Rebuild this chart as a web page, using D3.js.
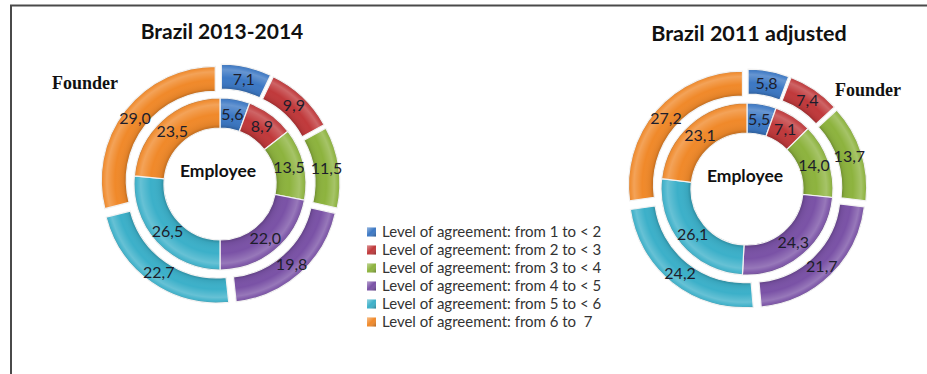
<!DOCTYPE html>
<html>
<head>
<meta charset="utf-8">
<script src="https://cdn.jsdelivr.net/npm/d3@7"></script>
<style>
  html, body { margin: 0; padding: 0; background: #fff; }
  svg { display: block; }
  text { white-space: pre; }
</style>
</head>
<body>
<svg id="chart" width="927" height="374"></svg>
<script>
// Levels of agreement (legend entries, in drawing order)
const categories = [
  "Level of agreement: from 1 to < 2",
  "Level of agreement: from 2 to < 3",
  "Level of agreement: from 3 to < 4",
  "Level of agreement: from 4 to < 5",
  "Level of agreement: from 5 to < 6",
  "Level of agreement: from 6 to  7"
];
// Shares (%) per level, outer ring = founders, inner ring = employees
const founder2013  = [7.1, 9.9, 11.5, 19.8, 22.7, 29.0];
const employee2013 = [5.6, 8.9, 13.5, 22.0, 26.5, 23.5];
const founder2011  = [5.8, 7.4, 13.7, 21.7, 24.2, 27.2];
const employee2011 = [5.5, 7.1, 14.0, 24.3, 26.1, 23.1];
const chartTitles = ["Brazil 2013-2014", "Brazil 2011 adjusted"];
const outerLabel = "Founder";
const innerLabel = "Employee";

const colors = ["#3c78c4", "#c0393b", "#8db33e", "#7a52a6", "#3cb0c9", "#f0892a"];

const svg = d3.select("#chart");
const sans = "Lato, 'Open Sans', sans-serif";
const serif = "'Liberation Serif', 'DejaVu Serif', serif";

// comma decimal separator
const fmt = d3.formatLocale({decimal: ",", thousands: ".", grouping: [3], currency: ["", ""]}).format(".1f");

// ring geometry
const innerRing = {r0: 56, r1: 86};
const outerRing = {r0: 89, r1: 114};
const explode = 6;

const defs = svg.append("defs");
function ringShade(id, ring) {
  const g = defs.append("radialGradient")
    .attr("id", id).attr("gradientUnits", "userSpaceOnUse")
    .attr("cx", 0).attr("cy", 0).attr("r", ring.r1);
  const a = ring.r0 / ring.r1, w = 1 - a;
  [[a, "#000", 0.22], [a + w * 0.12, "#000", 0.06], [a + w * 0.45, "#fff", 0.0],
   [a + w * 0.78, "#fff", 0.22], [a + w * 0.92, "#fff", 0.05], [1, "#000", 0.22]]
    .forEach(([o, c, op]) => g.append("stop").attr("offset", o)
      .attr("stop-color", c).attr("stop-opacity", op));
}
ringShade("shadeInner", innerRing);
ringShade("shadeOuter", outerRing);

// legend swatch shading
const sw = defs.append("linearGradient").attr("id", "swatchShade")
  .attr("x1", 0).attr("y1", 0).attr("x2", 1).attr("y2", 1);
[[0, "#fff", 0.45], [0.5, "#fff", 0], [1, "#000", 0.3]].forEach(([o, c, op]) =>
  sw.append("stop").attr("offset", o).attr("stop-color", c).attr("stop-opacity", op));

// frame lines of the figure box
svg.append("line").attr("x1", 10).attr("y1", 5.5).attr("x2", 927).attr("y2", 5.5)
  .attr("stroke", "#4a4a4a").attr("stroke-width", 2);
svg.append("line").attr("x1", 11).attr("y1", 5).attr("x2", 11).attr("y2", 374)
  .attr("stroke", "#4a4a4a").attr("stroke-width", 2);

const pie = d3.pie().sort(null).value(d => d);

function drawDonut(cx, cy, title, outerVals, innerVals, titleY, titleSize) {
  const g = svg.append("g").attr("transform", `translate(${cx},${cy})`);

  // inner ring (employees)
  const arcIn = d3.arc().innerRadius(innerRing.r0).outerRadius(innerRing.r1);
  const inner = pie(innerVals);
  g.append("g").selectAll("g").data(inner).join("g").each(function(d, i) {
    const s = d3.select(this);
    s.append("path").attr("d", arcIn(d)).attr("fill", colors[i]);
    s.append("path").attr("d", arcIn(d)).attr("fill", "url(#shadeInner)")
      .attr("stroke", "#f2f2f2").attr("stroke-width", 1.2);
  });

  // outer ring (founders), slices pushed outward along their bisector
  const arcOut = d3.arc().innerRadius(outerRing.r0).outerRadius(outerRing.r1);
  const outer = pie(outerVals);
  const shift = d => {
    const a = (d.startAngle + d.endAngle) / 2;
    return [Math.sin(a) * explode, -Math.cos(a) * explode];
  };
  g.append("g").selectAll("g").data(outer).join("g")
    .attr("transform", d => `translate(${shift(d)})`)
    .each(function(d, i) {
      const s = d3.select(this);
      s.append("path").attr("d", arcOut(d)).attr("fill", colors[i]);
      s.append("path").attr("d", arcOut(d)).attr("fill", "url(#shadeOuter)")
        .attr("stroke", "#f2f2f2").attr("stroke-width", 1.2);
    });

  // value labels at slice centroids
  const lab = (sel, data, arc, off) => sel.selectAll("text").data(data).join("text")
    .attr("transform", d => {
      const c = arc.centroid(d), o = off ? shift(d) : [0, 0];
      return `translate(${c[0] + o[0]},${c[1] + o[1]})`;
    })
    .attr("text-anchor", "middle").attr("dy", "0.35em")
    .attr("font-family", sans).attr("font-size", 16).attr("fill", "#1d1d2b")
    .text(d => fmt(d.data));
  lab(g.append("g"), inner, arcIn, false);
  lab(g.append("g"), outer, arcOut, true);

  g.append("text").attr("x", -2).attr("y", -7).attr("text-anchor", "middle")
    .attr("font-family", sans).attr("font-weight", "bold").attr("font-size", 17.5)
    .attr("fill", "#111").text(innerLabel);

  svg.append("text").attr("x", cx + 2).attr("y", titleY).attr("text-anchor", "middle")
    .attr("font-family", sans).attr("font-weight", "bold").attr("font-size", titleSize)
    .attr("fill", "#111").text(title);
  return g;
}

drawDonut(220, 184, chartTitles[0], founder2013, employee2013, 39, 21);
drawDonut(747, 189, chartTitles[1], founder2011, employee2011, 41, 21.5);

// "Founder" ring captions
svg.append("text").attr("x", 52).attr("y", 89)
  .attr("font-family", serif).attr("font-weight", "bold").attr("font-size", 18)
  .attr("fill", "#111").text(outerLabel);
svg.append("text").attr("x", 835).attr("y", 96)
  .attr("font-family", serif).attr("font-weight", "bold").attr("font-size", 18)
  .attr("fill", "#111").text(outerLabel);

// legend
const ly = d3.scaleBand().domain(d3.range(categories.length)).range([223, 331]);
const leg = svg.append("g").selectAll("g").data(categories).join("g")
  .attr("transform", (d, i) => `translate(367,${ly(i) + ly.bandwidth() / 2})`);
leg.append("rect").attr("x", 0).attr("y", -4.5).attr("width", 9).attr("height", 9)
  .attr("fill", (d, i) => colors[i]);
leg.append("rect").attr("x", 0).attr("y", -4.5).attr("width", 9).attr("height", 9)
  .attr("fill", "url(#swatchShade)");
leg.append("text").attr("x", 15).attr("dy", "0.35em")
  .attr("font-family", sans).attr("font-size", 15).attr("fill", "#333")
  .text(d => d);
</script>
</body>
</html>
